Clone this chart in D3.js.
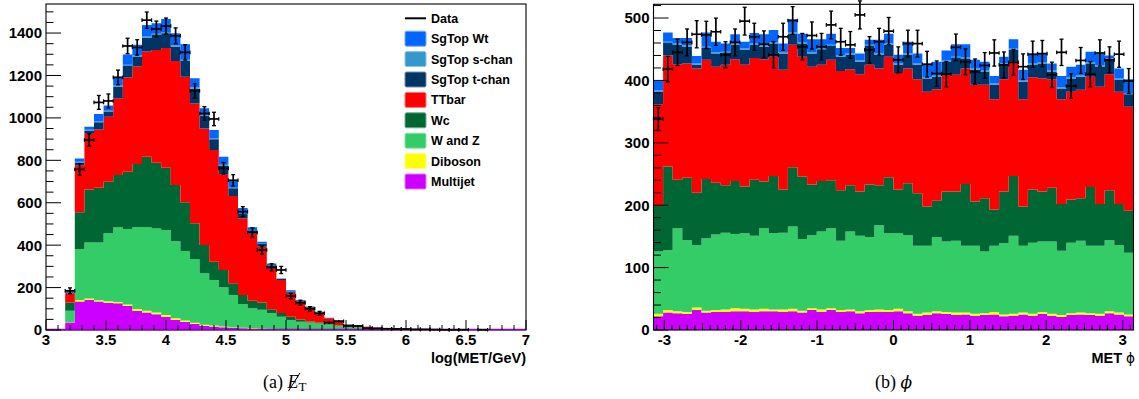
<!DOCTYPE html>
<html>
<head>
<meta charset="utf-8">
<script src="https://cdn.jsdelivr.net/npm/d3@7"></script>
<style>
  html, body { margin: 0; padding: 0; background: #ffffff; }
  svg { display: block; }
</style>
</head>
<body>
<svg id="fig" width="1139" height="399"></svg>
<script>
// ---- samples (stacking order, bottom to top) ----
const sampleNames  = ["Multijet", "Diboson", "W and Z", "Wc", "TTbar", "SgTop t-chan", "SgTop s-chan", "SgTop Wt"];
const sampleColors = ["#cc00ff", "#ffff00", "#33cc66", "#006633", "#ff0000", "#003366", "#3399cc", "#0066ff"];
const legendOrder  = ["SgTop Wt", "SgTop s-chan", "SgTop t-chan", "TTbar", "Wc", "W and Z", "Diboson", "Multijet"];

// ---- (a) log(MET/GeV): 50 bins on [3, 7] ----
const metRange = [3, 7];
const metMultijet = [0,0,35,134,141,134,129,126,113,91,83,74,63,47,38,28,20,16,13,9,8,6,5,4,3,3,2,2,1,1,1,1,0,0,0,0,0,0,0,0,0,0,0,0,0,0,0,0,0,0];
const metDiboson  = [0,0,2,7,7,6,6,6,7,8,8,8,8,8,7,6,5,5,4,3,3,3,2,2,2,1,1,1,1,1,0,0,0,0,0,0,0,0,0,0,0,0,0,0,0,0,0,0,0,0];
const metWZ       = [0,0,54,241,264,272,321,352,356,385,393,397,400,364,327,299,242,215,184,153,112,93,88,73,58,43,36,32,29,24,19,15,14,8,7,5,4,3,3,2,2,1,1,1,0,0,0,0,0,0];
const metWc       = [0,0,39,173,251,259,243,247,270,299,333,310,294,265,230,170,134,86,82,55,42,36,35,19,17,15,11,5,4,2,2,1,1,1,1,1,0,0,0,0,0,0,0,0,0,0,0,0,0,0];
const metTTbar    = [0,0,42,220,262,274,306,361,444,459,496,531,565,584,592,565,549,527,451,412,361,317,263,197,156,114,84,65,46,26,22,8,6,5,4,2,2,2,1,1,1,1,1,0,0,0,0,0,0,0];
const metTchan    = [0,0,6,15,15,34,25,55,55,48,65,71,69,68,75,70,60,50,42,36,24,15,12,10,4,5,4,3,2,2,1,1,1,1,1,1,1,0,0,0,0,0,0,0,0,0,0,0,0,0];
const metSchan    = [0,0,1,3,4,4,4,5,5,5,6,6,6,6,5,5,4,4,3,3,2,2,2,1,1,1,0,0,0,0,0,0,0,0,0,0,0,0,0,0,0,0,0,0,0,0,0,0,0,0];
const metWt       = [0,0,6,15,14,35,24,42,49,50,54,49,61,57,73,44,31,40,38,33,23,12,9,8,2,6,3,3,3,2,2,1,1,0,0,0,0,0,0,0,0,0,0,0,0,0,0,0,0,0];
const metData     = [0,0,185,757,896,1073,1080,1191,1339,1332,1461,1419,1433,1387,1309,1128,1021,995,762,706,558,460,377,295,283,160,129,100,79,35,41,19,19,8,7,6,5,5,3,3,2,1,1,1,0,1,0,0,0,0];
const metXTicks   = [3, 3.5, 4, 4.5, 5, 5.5, 6, 6.5, 7];
const metYTicks   = [0, 200, 400, 600, 800, 1000, 1200, 1400];

// ---- (b) MET phi: 50 bins on [-pi, pi] ----
const phiRange = [-Math.PI, Math.PI];
const phiMultijet = [22,28,27,26,32,28,29,29,30,30,29,30,30,29,30,28,32,29,32,29,30,27,29,29,29,30,27,23,24,27,26,24,25,23,24,25,22,23,25,23,26,23,21,24,25,24,23,27,25,22];
const phiDiboson  = [4,4,3,3,4,3,3,4,5,4,4,4,3,4,4,3,3,4,3,3,3,3,3,4,3,4,3,3,4,3,3,4,3,3,3,4,3,3,3,3,3,3,3,3,3,3,3,3,3,3];
const phiWZ       = [100,96,133,115,100,116,121,123,119,121,118,129,122,123,132,115,117,125,128,111,125,121,117,135,123,121,122,109,107,119,113,115,107,109,99,106,114,125,107,114,113,116,103,113,115,108,109,114,108,99];
const phiWc       = [74,134,78,100,84,95,83,76,85,75,90,75,92,69,95,100,81,81,77,81,74,71,84,64,90,70,83,84,63,58,80,79,99,71,85,58,83,96,63,85,80,86,75,69,68,94,67,80,66,67];
const phiTTbar    = [162,178,185,183,199,191,186,193,195,195,195,196,191,192,196,192,189,186,193,191,186,188,192,187,193,187,184,183,184,179,187,187,185,187,182,177,180,183,172,180,181,174,168,173,174,177,188,186,180,167];
const phiTchan    = [20,20,31,27,6,19,21,19,23,24,21,20,21,26,18,21,21,25,22,23,23,20,30,22,19,13,22,23,21,20,21,27,16,24,21,23,23,19,28,20,24,12,17,21,21,21,32,23,19,20];
const phiSchan    = [2,2,2,2,2,2,2,2,2,2,2,2,2,2,2,2,2,2,2,2,2,2,2,2,2,2,2,2,2,2,2,2,2,2,2,2,2,2,2,2,2,2,2,2,2,2,2,2,2,2];
const phiWt       = [15,15,9,12,12,23,17,13,15,11,17,18,20,14,21,14,21,14,18,12,9,11,8,22,16,14,19,16,21,22,16,20,21,14,14,12,11,15,17,14,14,11,18,17,17,17,19,5,16,22];
const phiData     = [338,418,445,461,474,473,478,441,461,495,470,458,441,470,496,454,472,454,489,462,457,505,449,462,479,433,459,459,426,411,410,453,430,414,424,444,425,429,422,442,443,409,445,391,432,410,444,433,442,399];
const phiXTicks   = [-3, -2, -1, 0, 1, 2, 3];
const phiYTicks   = [0, 100, 200, 300, 400, 500];

const svg = d3.select("#fig");
const sansFont = "'Liberation Sans', Arial, Helvetica, sans-serif";
const serifFont = "'Liberation Serif', 'Times New Roman', serif";

function drawPanel(p) {
  const nBins = p.series[0].length;
  const xs = d3.scaleLinear().domain(p.xDomain).range([p.left, p.right]);
  const ys = d3.scaleLinear().domain([0, p.yMax]).range([p.bottom, p.top]);
  const binW = (p.xDomain[1] - p.xDomain[0]) / nBins;
  const edges = d3.range(nBins + 1).map(i => p.xDomain[0] + i * binW);

  const rows = d3.range(nBins).map(i => {
    const r = {};
    sampleNames.forEach((name, k) => { r[name] = p.series[k][i]; });
    return r;
  });
  const layers = d3.stack().keys(sampleNames)(rows);

  const g = svg.append("g");
  const clipId = "clip-" + p.id;
  svg.append("clipPath").attr("id", clipId)
    .append("rect").attr("x", p.left).attr("y", p.top)
    .attr("width", p.right - p.left).attr("height", p.bottom - p.top);

  const area = d3.area()
    .x(d => xs(d.x)).y0(d => ys(d.y0)).y1(d => ys(d.y1));

  // stacked step histograms
  const stackG = g.append("g").attr("clip-path", `url(#${clipId})`);
  layers.forEach((layer, k) => {
    const pts = layer.flatMap((d, i) => [
      { x: edges[i], y0: d[0], y1: d[1] },
      { x: edges[i + 1], y0: d[0], y1: d[1] }
    ]);
    stackG.append("path")
      .attr("d", area(pts))
      .attr("fill", sampleColors[k])
      .attr("stroke", "none");
  });

  // frame
  g.append("rect")
    .attr("x", p.left).attr("y", p.top)
    .attr("width", p.right - p.left).attr("height", p.bottom - p.top)
    .attr("fill", "none").attr("stroke", "#000").attr("stroke-width", 1.1);

  if (p.baseLine) {
    g.append("line")
      .attr("x1", p.left).attr("x2", p.right)
      .attr("y1", p.bottom - 0.5).attr("y2", p.bottom - 0.5)
      .attr("stroke", p.baseLine).attr("stroke-width", 1.3);
  }

  // y ticks (inside the frame)
  const yMinor = d3.range(0, p.yMax + 1e-9, p.yMinorStep);
  g.selectAll(null).data(yMinor).enter().append("line")
    .attr("x1", p.left).attr("x2", d => p.left + (Math.abs(d / p.yMajorStep - Math.round(d / p.yMajorStep)) < 1e-6 ? 15 : 7.5))
    .attr("y1", d => ys(d)).attr("y2", d => ys(d))
    .attr("stroke", "#000").attr("stroke-width", 1);

  // x ticks
  const xMinor = d3.range(Math.ceil(p.xDomain[0] / p.xMinorStep - 1e-9), Math.floor(p.xDomain[1] / p.xMinorStep + 1e-9) + 1)
    .map(k => k * p.xMinorStep);
  g.selectAll(null).data(xMinor).enter().append("line")
    .attr("x1", d => xs(d)).attr("x2", d => xs(d))
    .attr("y1", p.bottom)
    .attr("y2", d => {
      const m = d / p.xMajorStep;
      if (Math.abs(m - Math.round(m)) < 1e-6) return p.bottom - 10;
      if (p.xMidStep) {
        const h = d / p.xMidStep;
        if (Math.abs(h - Math.round(h)) < 1e-6) return p.bottom - 7;
      }
      return p.bottom - 5;
    })
    .attr("stroke", "#000").attr("stroke-width", 1);

  // tick labels
  g.selectAll(null).data(p.yTicks).enter().append("text")
    .attr("x", p.left - 4).attr("y", d => ys(d)).attr("dy", "0.36em")
    .attr("text-anchor", "end")
    .attr("font-family", sansFont).attr("font-weight", "bold").attr("font-size", 15)
    .text(d => d);
  g.selectAll(null).data(p.xTicks).enter().append("text")
    .attr("x", d => xs(d)).attr("y", p.bottom + 15)
    .attr("text-anchor", "middle")
    .attr("font-family", sansFont).attr("font-weight", "bold").attr("font-size", 15)
    .text(d => d < 0 ? "-" + Math.abs(d) : String(d));

  // data points with statistical errors
  const pts = p.data.map((n, i) => ({ n, lo: edges[i], hi: edges[i + 1] })).filter(d => d.n > 0);
  const dg = g.append("g").attr("stroke", "#000").attr("stroke-width", 1.7).attr("fill", "none");
  pts.forEach(d => {
    const xl = xs(d.lo), xh = xs(d.hi), xc = (xl + xh) / 2;
    const yc = ys(d.n);
    const e = Math.sqrt(d.n);
    const yt = ys(d.n + e), yb = ys(d.n - e);
    dg.append("line").attr("x1", xl).attr("x2", xh).attr("y1", yc).attr("y2", yc);
    dg.append("line").attr("x1", xc).attr("x2", xc).attr("y1", yt).attr("y2", yb);
    if (yb - yt > 3) {
      dg.append("line").attr("x1", xc - 2).attr("x2", xc + 2).attr("y1", yt).attr("y2", yt).attr("stroke-width", 1.3);
      dg.append("line").attr("x1", xc - 2).attr("x2", xc + 2).attr("y1", yb).attr("y2", yb).attr("stroke-width", 1.3);
    }
    dg.append("line").attr("x1", xl).attr("x2", xl).attr("y1", yc - 1.8).attr("y2", yc + 1.8).attr("stroke-width", 1.2);
    dg.append("line").attr("x1", xh).attr("x2", xh).attr("y1", yc - 1.8).attr("y2", yc + 1.8).attr("stroke-width", 1.2);
  });

  return g;
}

// (a) missing transverse energy
const gA = drawPanel({
  id: "met", left: 46, right: 526, top: 4, bottom: 330,
  xDomain: metRange, yMax: 1537,
  series: [metMultijet, metDiboson, metWZ, metWc, metTTbar, metTchan, metSchan, metWt],
  data: metData,
  yTicks: metYTicks, yMajorStep: 200, yMinorStep: 50,
  xTicks: metXTicks, xMajorStep: 0.5, xMinorStep: 0.1,
  baseLine: "#9a00c8"
});
gA.append("text")
  .attr("x", 526).attr("y", 363).attr("text-anchor", "end")
  .attr("font-family", sansFont).attr("font-weight", "bold").attr("font-size", 14.5)
  .text("log(MET/GeV)");

// (b) azimuthal angle
const gB = drawPanel({
  id: "phi", left: 653.5, right: 1133.5, top: 4.3, bottom: 330,
  xDomain: phiRange, yMax: 522,
  series: [phiMultijet, phiDiboson, phiWZ, phiWc, phiTTbar, phiTchan, phiSchan, phiWt],
  data: phiData,
  yTicks: phiYTicks, yMajorStep: 100, yMinorStep: 20,
  xTicks: phiXTicks, xMajorStep: 1, xMinorStep: 0.1, xMidStep: 0.5
});
const phiTitle = gB.append("text")
  .attr("x", 1135).attr("y", 363).attr("text-anchor", "end")
  .attr("font-family", sansFont).attr("font-weight", "bold").attr("font-size", 14.5);
phiTitle.append("tspan").text("MET ");
phiTitle.append("tspan").attr("font-weight", "normal").attr("font-family", "'DejaVu Sans', sans-serif").attr("font-size", 13.5).text("ϕ");

// legend
const legend = svg.append("g").attr("font-family", sansFont).attr("font-weight", "bold").attr("font-size", 12.5);
const legTop = 18.3, legStep = 20.4, swX = 405, swW = 21, swH = 15, txX = 431;
legend.append("line").attr("x1", swX).attr("x2", swX + swW).attr("y1", legTop).attr("y2", legTop)
  .attr("stroke", "#000").attr("stroke-width", 2);
legend.append("text").attr("x", txX).attr("y", legTop).attr("dy", "0.36em").text("Data");
legendOrder.forEach((name, r) => {
  const k = sampleNames.indexOf(name);
  const cy = legTop + legStep * (r + 1);
  const c = d3.color(sampleColors[k]);
  legend.append("rect")
    .attr("x", swX).attr("y", cy - swH / 2).attr("width", swW).attr("height", swH)
    .attr("rx", 1.5)
    .attr("fill", sampleColors[k])
    .attr("stroke", d3.interpolateRgb(c, "#ffffff")(0.45)).attr("stroke-width", 1);
  legend.append("text").attr("x", txX).attr("y", cy).attr("dy", "0.36em").text(name);
});

// sub-figure captions
const capA = svg.append("text")
  .attr("x", 263).attr("y", 388)
  .attr("font-family", serifFont).attr("font-size", 18);
capA.append("tspan").text("(a) ");
capA.append("tspan").attr("font-style", "italic").text("E");
capA.append("tspan").attr("font-size", 13).attr("dy", 3).text("T");
{
  const node = capA.node();
  const box = node.getExtentOfChar(4);
  svg.append("line")
    .attr("x1", box.x + 1.0).attr("y1", box.y + box.height - 1)
    .attr("x2", box.x + box.width + 1.5).attr("y2", box.y + 1)
    .attr("stroke", "#000").attr("stroke-width", 1);
}
const capB = svg.append("text")
  .attr("x", 893.5).attr("y", 388).attr("text-anchor", "middle")
  .attr("font-family", serifFont).attr("font-size", 18);
capB.append("tspan").text("(b) ");
capB.append("tspan").attr("font-style", "italic").attr("font-family", "'DejaVu Serif', serif").attr("font-size", 17).text("ϕ");
</script>
</body>
</html>
